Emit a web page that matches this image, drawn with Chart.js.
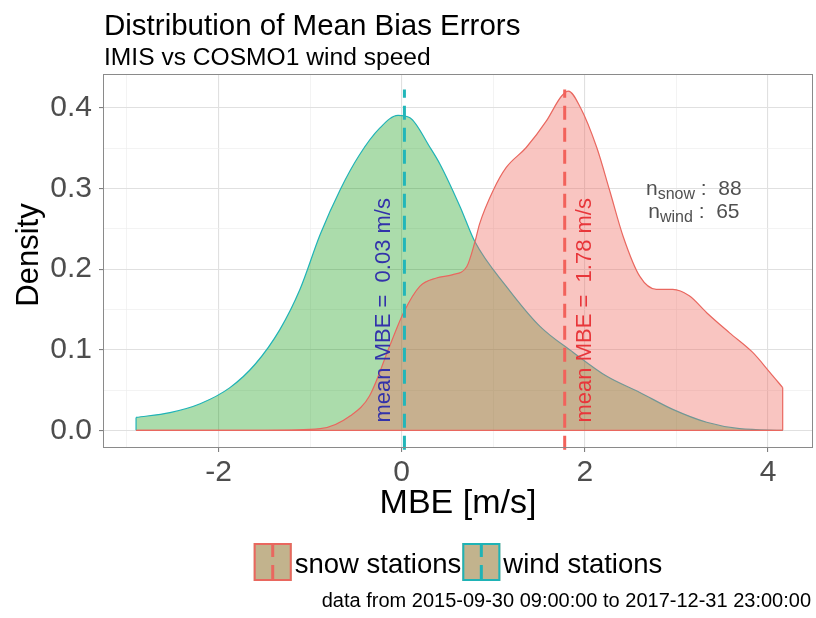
<!DOCTYPE html>
<html>
<head>
<meta charset="utf-8">
<script src="https://cdn.jsdelivr.net/npm/chart.js@4.4.0/dist/chart.umd.min.js"></script>
<style>
  html, body { margin: 0; padding: 0; background: #fff; }
</style>
</head>
<body>
<canvas id="chart" width="816" height="618"></canvas>
<script>
// density curves
const windX = [-2.9, -2.53, -2.2, -1.875, -1.60, -1.33, -1.11, -0.89, -0.67, -0.46, -0.24, -0.04, 0.09, 0.31, 0.42, 0.64, 0.80, 1.14, 1.51, 1.87, 2.24, 2.60, 2.96, 3.33, 3.69, 4.16];
const windY = [0.016, 0.022, 0.033, 0.053, 0.082, 0.125, 0.175, 0.243, 0.299, 0.342, 0.375, 0.391, 0.388, 0.351, 0.330, 0.277, 0.234, 0.179, 0.129, 0.097, 0.067, 0.047, 0.026, 0.010, 0.002, 0.0];

const snowX = [-2.9, -1.5, -0.89, -0.56, -0.35, -0.13, 0.02, 0.20, 0.38, 0.55, 0.71, 0.80, 0.85, 1.00, 1.14, 1.36, 1.58, 1.74, 1.82, 1.95, 2.13, 2.27, 2.42, 2.60, 2.78, 2.96, 3.14, 3.33, 3.58, 3.83, 4.02, 4.16];
const snowY = [0, 0, 0.002, 0.018, 0.043, 0.105, 0.146, 0.179, 0.189, 0.193, 0.203, 0.234, 0.256, 0.298, 0.326, 0.351, 0.384, 0.414, 0.421, 0.401, 0.351, 0.298, 0.240, 0.191, 0.175, 0.175, 0.167, 0.146, 0.121, 0.097, 0.072, 0.053];

const seriesNames = ['snow stations', 'wind stations'];
const means = [1.78, 0.03];          // snow, wind
const counts = [88, 65];             // snow, wind
const countNames = ['snow', 'wind'];

const xMajor = [-2, 0, 2, 4];
const xMinor = [-3, -1, 1, 3];
const yMajor = [0, 0.1, 0.2, 0.3, 0.4];
const yMinor = [0.05, 0.15, 0.25, 0.35];

const FONT = '"Liberation Sans", Arial, Helvetica, sans-serif';
const f = (s) => s + 'px ' + FONT;

const RED = '#e9675f';
const TEAL = '#1fb3b6';

const pts = (xs, ys) => xs.map((x, i) => ({ x: x, y: ys[i] }));
const vline = (m) => [{ x: m, y: -0.024 }, { x: m, y: 0.423 }];
const edge = (x, y) => [{ x: x, y: 0 }, { x: x, y: y }];
const last = (a) => a[a.length - 1];

const overlay = {
  id: 'overlay',
  afterDatasetsDraw(chart) {
    const { ctx, chartArea: a } = chart;
    ctx.save();
    ctx.strokeStyle = '#8a8a8a';
    ctx.lineWidth = 1;
    ctx.strokeRect(a.left - 0.5, a.top - 0.5, a.right - a.left + 1, a.bottom - a.top + 1);
    ctx.restore();
  },
  afterDraw(chart) {
    const { ctx, chartArea: a, scales } = chart;
    const xs = scales.x, ys = scales.y;
    ctx.save();

    // titles
    ctx.fillStyle = '#000';
    ctx.textAlign = 'left';
    ctx.textBaseline = 'alphabetic';
    ctx.font = f(29.5);
    ctx.fillText('Distribution of Mean Bias Errors', 104, 35);
    ctx.font = f(24.6);
    ctx.fillText('IMIS vs COSMO1 wind speed', 104, 65);

    // axis titles
    ctx.font = f(34);
    ctx.textAlign = 'center';
    ctx.fillText('MBE [m/s]', (a.left + a.right) / 2, 513);
    ctx.save();
    ctx.translate(38, 255);
    ctx.rotate(-Math.PI / 2);
    ctx.font = f(31);
    ctx.fillText('Density', 0, 0);
    ctx.restore();

    // mean labels beside the dashed lines
    const labelY = ys.getPixelForValue(0.149);
    [[means[1] - 0.158, '#3232aa', means[1]], [means[0] + 0.29, '#e8363a', means[0]]].forEach(([lx, col, m]) => {
      ctx.save();
      ctx.translate(xs.getPixelForValue(lx), labelY);
      ctx.rotate(-Math.PI / 2);
      ctx.font = f(22);
      ctx.fillStyle = col;
      ctx.textAlign = 'center';
      ctx.fillText('mean MBE =  ' + m.toFixed(2) + ' m/s', 0, 0);
      ctx.restore();
    });

    // station counts
    ctx.fillStyle = '#505050';
    ctx.textAlign = 'left';
    const cx = xs.getPixelForValue(3.19);
    [0, 1].forEach((i) => {
      const base = ys.getPixelForValue(0.292 - i * 0.0285);
      ctx.font = f(21);
      const wn = ctx.measureText('n').width;
      const tail = ' :  ' + counts[i];
      const wt = ctx.measureText(tail).width;
      ctx.font = f(16);
      const ws = ctx.measureText(countNames[i]).width;
      let x = cx - (wn + ws + wt) / 2;
      ctx.font = f(21);
      ctx.fillText('n', x, base);
      x += wn;
      ctx.font = f(16);
      ctx.fillText(countNames[i], x, base + 4);
      x += ws;
      ctx.font = f(21);
      ctx.fillText(tail, x, base);
    });

    // legend
    ctx.font = f(27.5);
    const key = 38, gap = 3;
    const w0 = ctx.measureText(seriesNames[0]).width;
    const w1 = ctx.measureText(seriesNames[1]).width;
    const total = key + gap + w0 + 1 + key + gap + w1;
    let lx = (a.left + a.right) / 2 - total / 2;
    const ky = 543;
    [[RED, seriesNames[0], w0], [TEAL, seriesNames[1], w1]].forEach(([col, name, w]) => {
      ctx.fillStyle = '#c2b38d';
      ctx.fillRect(lx, ky, key, key);
      ctx.strokeStyle = col;
      ctx.lineWidth = 2;
      ctx.strokeRect(lx + 1, ky + 1, key - 2, key - 2);
      ctx.save();
      ctx.lineWidth = 3;
      ctx.setLineDash([14, 8]);
      ctx.beginPath();
      ctx.moveTo(lx + key / 2, ky);
      ctx.lineTo(lx + key / 2, ky + key);
      ctx.stroke();
      ctx.restore();
      ctx.fillStyle = '#000';
      ctx.fillText(name, lx + key + gap, 573);
      lx += key + gap + w + 1;
    });

    // caption
    ctx.font = f(20);
    ctx.textAlign = 'right';
    ctx.fillText('data from 2015-09-30 09:00:00 to 2017-12-31 23:00:00', 811, 606.5);
    ctx.restore();
  }
};

new Chart(document.getElementById('chart'), {
  type: 'line',
  data: {
    datasets: [
      { label: 'snow base', data: [{ x: snowX[0], y: 0 }, { x: last(snowX), y: 0 }], borderColor: RED, borderWidth: 1.2, pointRadius: 0, fill: false, order: 0 },
      { label: 'snow edge', data: edge(last(snowX), last(snowY)), borderColor: RED, borderWidth: 1.2, pointRadius: 0, fill: false, order: 0 },
      { label: 'wind edge', data: edge(windX[0], windY[0]), borderColor: TEAL, borderWidth: 1.2, pointRadius: 0, fill: false, order: 0 },
      { label: 'snow mean', data: vline(means[0]), borderColor: '#f2625b', borderWidth: 3, borderDash: [14, 8], pointRadius: 0, fill: false, clip: false, order: 1 },
      { label: 'wind mean', data: vline(means[1]), borderColor: '#22b6b9', borderWidth: 3, borderDash: [14, 8], pointRadius: 0, fill: false, clip: false, order: 1 },
      { label: seriesNames[0], data: pts(snowX, snowY), borderColor: RED, borderWidth: 1.2, backgroundColor: 'rgba(240,110,100,0.4)', fill: 'origin', pointRadius: 0, cubicInterpolationMode: 'monotone', order: 3 },
      { label: seriesNames[1], data: pts(windX, windY), borderColor: TEAL, borderWidth: 1.2, backgroundColor: 'rgba(0,150,0,0.33)', fill: 'origin', pointRadius: 0, cubicInterpolationMode: 'monotone', order: 4 }
    ]
  },
  options: {
    responsive: false,
    devicePixelRatio: 1,
    animation: false,
    layout: { padding: { left: 0, top: 75, right: 4, bottom: 131 } },
    plugins: { legend: { display: false }, tooltip: { enabled: false }, title: { display: false } },
    scales: {
      x: {
        type: 'linear',
        min: -3.25,
        max: 4.48,
        afterBuildTicks: (s) => { s.ticks = xMajor.concat(xMinor).sort((p, q) => p - q).map((v) => ({ value: v })); },
        afterFit: (s) => { s.height = 40; },
        border: { display: false },
        grid: {
          color: (c) => xMajor.includes(c.tick.value) ? '#e0e0e0' : '#eeeeee',
          lineWidth: (c) => xMajor.includes(c.tick.value) ? 1.1 : 0.7,
          tickColor: (c) => xMajor.includes(c.tick.value) ? '#7f7f7f' : 'rgba(0,0,0,0)',
          tickLength: 5
        },
        ticks: {
          autoSkip: false,
          maxRotation: 0,
          padding: 3,
          color: '#4d4d4d',
          font: { family: FONT, size: 30 },
          callback: (v) => xMajor.includes(v) ? String(v) : ''
        }
      },
      y: {
        min: -0.0207,
        max: 0.441,
        afterBuildTicks: (s) => { s.ticks = yMajor.concat(yMinor).sort((p, q) => p - q).map((v) => ({ value: v })); },
        afterFit: (s) => { s.width = 104; },
        border: { display: false },
        grid: {
          color: (c) => yMajor.includes(c.tick.value) ? '#e0e0e0' : '#eeeeee',
          lineWidth: (c) => yMajor.includes(c.tick.value) ? 1.1 : 0.7,
          tickColor: (c) => yMajor.includes(c.tick.value) ? '#7f7f7f' : 'rgba(0,0,0,0)',
          tickLength: 5
        },
        ticks: {
          autoSkip: false,
          padding: 7,
          color: '#4d4d4d',
          font: { family: FONT, size: 30 },
          callback: (v) => yMajor.includes(v) ? v.toFixed(1) : ''
        }
      }
    }
  },
  plugins: [overlay]
});
</script>
</body>
</html>
